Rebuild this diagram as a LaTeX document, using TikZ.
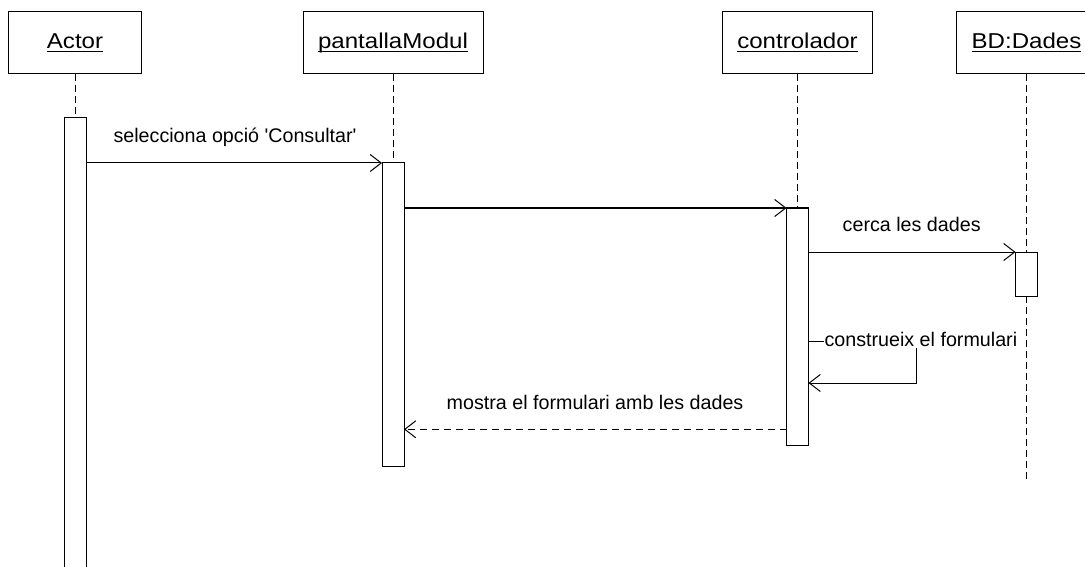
\documentclass[tikz,border=0pt]{standalone}
\usepackage{fontspec}
\setmainfont{Liberation Sans}
\newfontfamily\hdrfont[FakeStretch=1.12]{Liberation Sans}
\usetikzlibrary{arrows.meta}
\newcommand\myul[1]{\setbox0\hbox{#1}\rlap{\rule[-3.5pt]{\wd0}{1.3pt}}\box0}
\begin{document}
\begin{tikzpicture}[x=1pt,y=-1pt, line width=1pt,
 head/.style={draw, fill=white, minimum height=62pt, inner sep=0pt, outer sep=0pt,
   font=\hdrfont\fontsize{21.5}{25}\selectfont, text height=15pt, text depth=4pt},
 actbar/.style={draw, fill=white, minimum width=22pt, inner sep=0pt, outer sep=0pt},
 life/.style={dash pattern=on 7pt off 4pt},
 msg/.style={-{Straight Barb[length=11pt,width=17pt]}},
 ret/.style={msg, dash pattern=on 7pt off 5pt},
 lbl/.style={font=\fontsize{19.7}{23}\selectfont, inner sep=1pt, anchor=base}]
\path[use as bounding box, fill=white] (0,0) rectangle (1085,567);
\clip (0,0) rectangle (1085,567);
% headers
\node[head, minimum width=133pt] (hA) at (75,43) {\myul{Actor}};
\node[head, minimum width=180pt] (hP) at (393,43) {\myul{pantallaModul}};
\node[head, minimum width=150pt] (hC) at (797.5,43) {\myul{controlador}};
\node[head, minimum width=141pt] (hB) at (1026.5,43) {\myul{BD:Dades}};
% lifelines
\coordinate (bEnd) at (1026.5,480);
\draw[life] (hA.south) -- (75,118) coordinate (lA);
\draw[life] (hP.south) -- (393,163) coordinate (lP);
\draw[life] (hC.south) -- (797.5,208) coordinate (lC);
\draw[life] (hB.south) -- (1026.5,252) coordinate (lB);
% activation bars
\node[actbar, minimum height=482pt] (a1) at (75,359) {};
\node[actbar, minimum height=303pt] (a2) at (393,314.5) {};
\node[actbar, minimum height=237pt] (a3) at (797.5,326.5) {};
\node[actbar, minimum height=44pt] (a4) at (1026.5,274) {};
\draw[life] (a4.south) -- (bEnd);
% messages
\draw[msg] (a1.east |- a2.north) -- (a2.north west);
\node[lbl] (t1) at (235,143) {selecciona opció \textquotesingle Consultar\textquotesingle};
\draw[msg] (a2.east |- a3.north) -- (a3.north west);
\draw[msg] (a3.east |- a4.north) -- (a4.north west);
\node[lbl] (t3) at (911.7,231.7) {cerca les dades};
\coordinate (s1) at (916,341);
\coordinate (s2) at (916,383);
\draw[msg] (a3.east |- s1) -- (s1) -- (s2) -- (a3.east |- s2);
\node[lbl, anchor=base west, fill=white] (t4) at (823,346.7) {construeix el formulari};
\coordinate (r) at (0,429.3);
\draw[ret] (a3.west |- r) -- (a2.east |- r);
\node[lbl] (t5) at (595,409.3) {mostra el formulari amb les dades};
\end{tikzpicture}
\end{document}
